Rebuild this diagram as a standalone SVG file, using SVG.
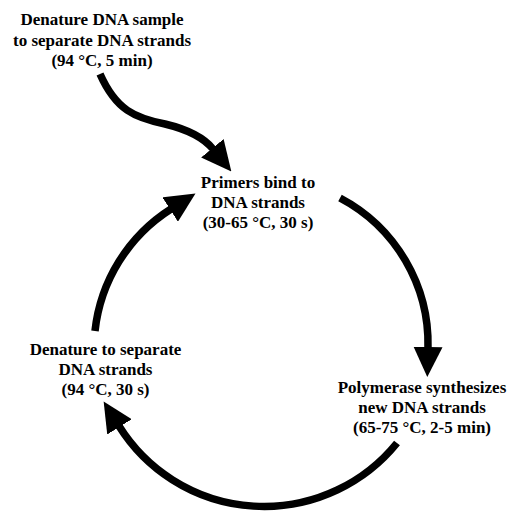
<svg xmlns="http://www.w3.org/2000/svg" width="508" height="511" viewBox="0 0 508 511">
<style>
.lbl{font-family:"Liberation Serif","Times New Roman",serif;font-weight:bold;font-size:17px;fill:#000;text-anchor:middle}
.arr{fill:none;stroke:#000;stroke-width:7.5;stroke-linecap:butt;marker-end:url(#ah)}
</style>
<defs>
<marker id="ah" markerUnits="userSpaceOnUse" viewBox="0 0 30 29" markerWidth="30" markerHeight="29" refX="1" refY="14.5" orient="auto">
<path d="M0 0 L30 14.5 L0 29 Z" fill="#000"/>
</marker>
</defs>
<rect width="508" height="511" fill="#fff"/>
<g id="connectors">
<path class="arr" d="M100 74 C116 110 135 118 165 124 C190 130 204 138 213 149"/>
<path class="arr" d="M340 198 A165 165 0 0 1 428 348"/>
<path class="arr" d="M397 443 A171 171 0 0 1 119 426"/>
<path class="arr" d="M95 331 A166 166 0 0 1 171 209"/>
</g>
<g id="start">
<text class="lbl" x="102" y="25">Denature DNA sample</text>
<text class="lbl" x="102" y="46">to separate DNA strands</text>
<text class="lbl" x="102" y="66">(94 °C, 5 min)</text>
</g>
<g id="anneal">
<text class="lbl" x="258" y="188">Primers bind to</text>
<text class="lbl" x="258" y="208">DNA strands</text>
<text class="lbl" x="258" y="228">(30-65 °C, 30 s)</text>
</g>
<g id="extend">
<text class="lbl" x="422" y="393">Polymerase synthesizes</text>
<text class="lbl" x="422" y="413">new DNA strands</text>
<text class="lbl" x="422" y="433">(65-75 °C, 2-5 min)</text>
</g>
<g id="denature">
<text class="lbl" x="105.5" y="355">Denature to separate</text>
<text class="lbl" x="105.5" y="375">DNA strands</text>
<text class="lbl" x="105.5" y="395">(94 °C, 30 s)</text>
</g>
</svg>
